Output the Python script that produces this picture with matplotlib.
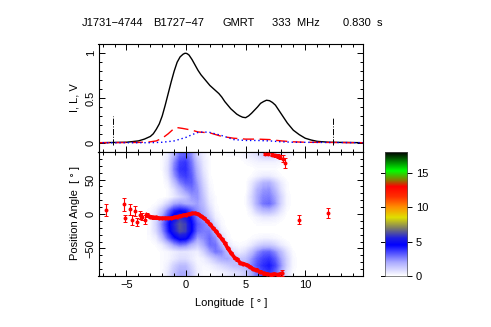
import numpy as np
import matplotlib
matplotlib.use("Agg")
import matplotlib.pyplot as plt
import matplotlib.colors as mplcolors

plt.rcParams["font.family"] = ["Liberation Sans", "DejaVu Sans"]
plt.rcParams["font.size"] = 8

# profile
prof_lon = [-7.35, -5, -4, -3.5, -3, -2.75, -2.5, -2.25, -2, -1.75, -1.5, -1.25, -1, -0.75, -0.5, -0.25, -0.1, 0, 0.1, 0.25,
            0.5, 0.75, 1, 1.25, 1.5, 1.75, 2, 2.25, 2.5, 2.75, 3, 3.25, 3.5, 3.75, 4, 4.25, 4.5, 4.75, 5, 5.25, 5.5, 5.75,
            6, 6.25, 6.5, 6.75, 7, 7.25, 7.5, 7.75, 8, 8.25, 8.5, 8.75, 9, 9.5, 10, 10.5, 11, 12, 14.85]
stokes_i = [0, 0.005, 0.02, 0.04, 0.07, 0.1, 0.15, 0.21, 0.3, 0.42, 0.55, 0.68, 0.8, 0.9, 0.96, 0.99, 1.0, 1.0, 0.995, 0.98,
            0.93, 0.87, 0.81, 0.76, 0.72, 0.68, 0.64, 0.61, 0.58, 0.55, 0.51, 0.46, 0.42, 0.38, 0.35, 0.32, 0.3, 0.285,
            0.28, 0.3, 0.33, 0.365, 0.4, 0.44, 0.46, 0.475, 0.47, 0.45, 0.42, 0.37, 0.32, 0.27, 0.22, 0.18, 0.14, 0.09,
            0.05, 0.03, 0.015, 0.005, 0]
lin_lon = [-7.35, -4, -3, -2.5, -2, -1.5, -1, -0.8, -0.3, 0.5, 1, 2, 3, 4, 5, 6, 7, 8, 9, 10, 14.85]
stokes_l = [0, 0.003, 0.01, 0.02, 0.05, 0.1, 0.16, 0.17, 0.16, 0.14, 0.12, 0.11, 0.07, 0.05, 0.04, 0.04, 0.035,
            0.02, 0.01, 0.005, 0]
circ_lon = [-7.35, -3, -2, -1, 0, 0.5, 1, 1.5, 2, 3, 4, 5, 6, 7, 8, 9, 14.85]
stokes_v = [0, 0, 0.005, 0.02, 0.06, 0.09, 0.115, 0.12, 0.115, 0.08, 0.035, 0.025, 0.025, 0.02, 0.01, 0.005, 0]
window_lon = [-6.12, 12.37]
window_top = [0.3, 0.28]

# position angle sweep
pa_lon = [-3.3, -3, -2.75, -2.5, -2.25, -2, -1.75, -1.5, -1.25, -1, -0.75, -0.5, -0.25, 0, 0.25, 0.5, 0.75, 1, 1.25,
          1.5, 1.75, 2, 2.25, 2.5, 2.75, 3, 3.25, 3.5, 3.75, 4.1, 4.3, 4.55, 4.8, 5.1, 5.4, 5.65, 5.9, 6.2, 6.5,
          6.8, 7.1, 7.4, 7.7, 8.05]
pa_val = [-1, -4, -5, -5, -6, -6, -6, -6, -6, -5, -4, -3, -2, -1, 0, 1, 1, 0, -3, -6, -10, -15, -20, -25, -31, -36,
          -42, -50, -56, -64, -66, -71, -72, -74, -77, -80, -81, -84, -86, -87, -88, -87, -88, -86]
pa_err = [3, 2, 2, 2, 1.5, 1, 1, 1, 1, 1, 1, 1, 1, 1, 1, 1, 1, 1, 1, 1, 1, 1, 1, 1, 1, 1, 1, 1, 1, 1.5, 1.5, 1.5, 1.5,
          1.5, 2, 2, 2, 2, 2, 2, 2, 2, 2, 4]
# the points off the main sweep, all with bigger errors
out_lon = [-6.75, -5.2, -5.1, -4.7, -4.5, -4.25, -4.1, -3.9, -3.7, -3.45, 6.6, 6.9, 7.2, 7.5, 7.7, 7.9, 8.1, 8.3, 9.47, 11.9]
out_pa = [6, 14, -6, 7, -9, 4, -12, -1, -4, -8, 87, 87, 86, 85, 84, 83, 80, 74, -8, 1]
out_err = [9, 9, 5, 8, 7, 7, 6, 6, 5, 6, 2, 2, 2, 2, 3, 3, 5, 7, 7, 7]

# single pulse density, estimated by eye on a 0.5 deg x 10 deg grid
grid_lon = [-3, -2.5, -2, -1.5, -1, -0.5, 0, 0.5, 1, 1.5, 2, 2.5, 3, 3.5, 4, 4.5, 5, 5.5, 6, 6.5, 7, 7.5, 8, 8.5, 9, 9.5]
grid_pa = [85, 75, 65, 55, 45, 35, 25, 15, 5, -5, -15, -25, -35, -45, -55, -65, -75, -85]
density = [
    [0, 0, .1, .5, 1.8, 3.0, 3.2, 2.4, 1.0, .4, .1, 0, 0, .1, .1, .1, .3, .5, .7, 1.1, 1.2, 1.0, .6, .3, .1, 0],
    [0, 0, .1, .7, 2.4, 3.6, 3.8, 2.8, 1.4, .5, .1, 0, 0, 0, 0, 0, .1, .2, .3, .3, .3, .3, .2, .1, 0, 0],
    [0, 0, .1, .8, 2.6, 3.8, 3.9, 3.0, 1.7, .6, .1, 0, 0, 0, 0, 0, 0, 0, .1, .1, .1, .1, 0, 0, 0, 0],
    [0, 0, 0, .6, 2.2, 3.4, 3.7, 3.2, 1.9, .8, .1, 0, 0, 0, 0, 0, 0, .1, .3, .5, .5, .3, .1, 0, 0, 0],
    [0, 0, 0, .3, 1.4, 2.6, 3.2, 3.2, 2.2, 1.0, .2, 0, 0, 0, 0, 0, 0, .5, 1.2, 1.8, 1.9, 1.2, .5, .1, 0, 0],
    [0, 0, 0, .1, .7, 1.6, 2.4, 2.8, 2.4, 1.2, .3, 0, 0, 0, 0, 0, 0, .7, 1.8, 2.3, 2.4, 1.7, .7, .1, 0, 0],
    [0, 0, 0, .1, .5, 1.0, 1.5, 2.3, 2.4, 1.4, .4, .1, 0, 0, 0, 0, .1, .9, 2.0, 2.6, 2.7, 2.1, 1.0, .2, 0, 0],
    [0, .1, .4, 1.1, 2.0, 2.3, 2.0, 2.0, 2.2, 1.6, .6, .1, 0, 0, 0, 0, .1, .8, 2.0, 2.8, 3.0, 2.3, 1.0, .2, 0, 0],
    [.1, .5, 1.4, 2.8, 4.0, 4.4, 4.2, 3.2, 2.4, 1.9, .9, .2, 0, 0, 0, 0, 0, .4, 1.2, 1.7, 1.8, 1.3, .6, .1, 0, 0],
    [.2, .9, 2.2, 3.8, 5.0, 5.8, 5.4, 4.2, 2.8, 2.2, 1.4, .4, .1, 0, 0, 0, 0, .1, .3, .5, .5, .4, .2, 0, 0, 0],
    [.2, 1.0, 2.6, 4.2, 5.6, 6.4, 6.0, 4.6, 3.2, 2.7, 2.2, .9, .2, 0, 0, 0, 0, 0, .1, .1, .1, .1, 0, 0, 0, 0],
    [.2, .9, 2.3, 4.0, 5.4, 6.3, 6.0, 4.6, 3.0, 2.7, 2.7, 1.6, .4, .1, 0, 0, 0, 0, 0, 0, 0, 0, 0, 0, 0, 0],
    [.1, .4, 1.5, 3.0, 4.2, 5.0, 4.9, 3.6, 2.2, 2.5, 3.0, 2.4, 1.0, .2, 0, 0, 0, .1, .2, .3, .3, .2, .1, 0, 0, 0],
    [0, .1, .4, 1.2, 2.2, 2.8, 2.6, 1.8, 1.3, 2.0, 2.9, 2.9, 1.8, .7, .2, .1, .2, .5, 1.0, 1.3, 1.3, 1.0, .5, .2, 0, 0],
    [0, 0, .1, .2, .4, .6, .6, .5, .4, 1.1, 2.1, 2.8, 2.6, 1.6, .8, .5, .8, 1.5, 2.4, 3.0, 3.1, 2.5, 1.6, .7, .1, 0],
    [0, 0, .1, .2, .5, .8, .8, .5, .2, .4, .9, 1.5, 2.0, 2.1, 1.7, 1.3, 1.5, 2.3, 3.1, 3.6, 3.8, 3.2, 2.1, 1.0, .2, 0],
    [0, 0, .1, .4, 1.1, 1.6, 1.6, .9, .3, .2, .3, .6, .9, 1.2, 1.5, 1.6, 1.8, 2.6, 3.4, 3.9, 4.2, 3.6, 2.4, 1.0, .2, 0],
    [0, 0, .1, .6, 1.4, 2.0, 2.0, 1.2, .4, .1, .1, .2, .3, .5, .7, .9, 1.3, 2.0, 2.9, 3.5, 3.8, 3.1, 1.9, .7, .1, 0],
]

# colour bar
bar_levels = [0, 2, 4.5, 5.5, 7, 8.5, 10, 11.5, 13, 14, 15.3, 17, 18]
bar_colors = ["white", "#a9a9ff", "#0000ff", "#2020e0", "#808060", "#e0e000", "#ff9000", "#ff3000", "#ff0000",
              "#808000", "#00ff00", "#006000", "black"]
zmax = 18.1

W, H = 491.0, 327.0
def axbox(left, top, right, bottom):
    return [left / W, 1 - bottom / H, (right - left) / W, (bottom - top) / H]

fig = plt.figure(figsize=(4.91, 3.27), dpi=100)

ax1 = fig.add_axes(axbox(98.5, 44, 363, 152))
ax2 = fig.add_axes(axbox(98.5, 152, 363, 276))
cax = fig.add_axes(axbox(384.5, 152, 407, 276))

colormap = mplcolors.LinearSegmentedColormap.from_list(
    "", [(lev / 18.0, col) for lev, col in zip(bar_levels, bar_colors)])

for ax in [ax1, ax2]:
    ax.set_xlim(-7.35, 14.85)
    ax.set_xticks(np.arange(-5, 11, 5))
    ax.set_xticks(np.arange(-7, 15, 1), minor=True)
    ax.tick_params(which="major", direction="in", top=True, right=True, length=4, width=0.7, pad=2, labelsize=8)
    ax.tick_params(which="minor", direction="in", top=True, right=True, length=2, width=0.7)
    for sp in ax.spines.values():
        sp.set_linewidth(0.8)

ax1.plot(prof_lon, stokes_i, color="black", lw=1.0)
ax1.plot(lin_lon, stokes_l, color="red", lw=1.0, dashes=(8, 4))
ax1.plot(circ_lon, stokes_v, color="blue", lw=1.0, dashes=(1, 2))
ax1.vlines(window_lon, -0.03, window_top, color="black", lw=0.7, linestyles="dashdot")
ax1.set_ylim(-0.104, 1.104)
ax1.set_yticks([0, 0.5, 1])
ax1.set_yticklabels(["0", "0.5", "1"], rotation=90, va="center")
ax1.set_yticks(np.arange(0, 1.1, 0.1), minor=True)
ax1.tick_params(axis="x", labelbottom=False)

ax2.imshow(density, cmap=colormap, vmin=0, vmax=zmax, aspect="auto", interpolation="bilinear",
           extent=[-3.25, 9.75, -90, 90], zorder=1)
ax2.plot(pa_lon, pa_val, color="red", lw=2.6, zorder=3)
ax2.errorbar(pa_lon, pa_val, yerr=pa_err, fmt="o", ms=2.0, color="red", elinewidth=0.9, capsize=1.2,
             capthick=0.7, zorder=3)
ax2.errorbar(out_lon, out_pa, yerr=out_err, fmt="o", ms=1.8, color="red", elinewidth=0.8, capsize=1.3,
             capthick=0.7, zorder=3, clip_on=True)
ax2.set_xlim(-7.35, 14.85)
ax2.set_ylim(-90, 90)
ax2.set_yticks([-50, 0, 50])
ax2.set_yticklabels(["\u221250", "0", "50"], rotation=90, va="center")
ax2.set_yticks(np.arange(-80, 90, 10), minor=True)
ax2.set_xticklabels(["\u22125", "0", "5", "10"])
ax2.tick_params(axis="x", which="major", pad=3)

# colour bar drawn as an image
bar_z = np.linspace(0, zmax, 256).reshape(-1, 1)
cax.imshow(bar_z, cmap=colormap, vmin=0, vmax=zmax, aspect="auto", origin="lower", extent=[0, 1, 0, zmax])
cax.set_xticks([])
cax.set_yticks([0, 5, 10, 15])
cax.yaxis.tick_right()
cax.tick_params(axis="y", direction="out", length=3.5, width=0.7, pad=3, labelsize=8)
for y in [0, 5, 10, 15]:
    cax.plot([-0.16, 0], [y, y], color="black", lw=0.7, clip_on=False)
cax.set_xlim(0, 1)
cax.set_ylim(0, zmax)
for sp in cax.spines.values():
    sp.set_linewidth(0.5)
    sp.set_color("#555555")

# header
for x, s in [(81.7, "J1731\u22124744"), (152.7, "B1727\u221247"), (222.7, "GMRT"), (271.7, "333  MHz"), (342.7, "0.830  s")]:
    fig.text(x / W, 1 - 23.5 / H, s, fontsize=8, ha="left", va="center")

fig.text(74.5 / W, 1 - 98 / H, "I, L, V", rotation=90, fontsize=8, ha="center", va="center")
fig.text(74.5 / W, 1 - 213.5 / H, "Position Angle  [ \u00b0 ]", rotation=90, fontsize=8, ha="center", va="center")
fig.text(231 / W, 1 - 303 / H, "Longitude  [ \u00b0 ]", fontsize=8, ha="center", va="center")

fig.savefig("out.png", dpi=100)
